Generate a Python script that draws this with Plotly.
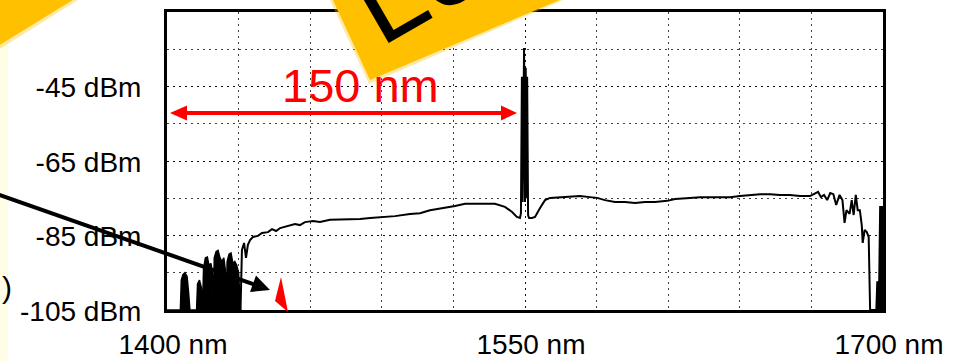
import plotly.graph_objects as go

# ---------------- data (wavelength in nm, power in dBm) ----------------
noise_nm = [1400.0, 1405.6, 1406.0, 1406.7, 1407.5, 1408.4, 1409.0, 1409.6,
            1412.4, 1412.8, 1413.6, 1414.4, 1414.9,
            1415.3, 1416.1, 1416.9, 1417.6, 1418.4, 1419.0, 1419.4,
            1419.8, 1420.6, 1421.4, 1422.2, 1423.0, 1423.8, 1424.4, 1424.8,
            1425.2, 1426.0, 1426.8, 1427.6, 1428.4, 1429.2, 1430.0, 1430.8]
noise_dbm = [-105, -105, -97, -95.5, -95, -96, -100, -105,
             -105, -98, -97, -99, -105,
             -94, -91, -90.8, -93, -92.5, -95, -105,
             -91, -89.3, -89, -91, -92, -91, -94, -105,
             -92, -90, -89.7, -92.5, -92, -93, -95, -105]

trace_nm = [1430.8, 1431.0, 1431.4, 1432.3, 1433.1, 1433.9, 1434.8, 1436.0, 1438.1, 1439.8,
            1442.3, 1444.0, 1445.7, 1447.4, 1449.4, 1451.5, 1453.6, 1455.7, 1457.8, 1461.2,
            1464.1, 1468.3, 1472.5, 1476.7, 1480.9, 1485.1, 1490.5, 1495.5, 1501.8, 1506.0,
            1510.2, 1516.5, 1520.7, 1524.9, 1529.1, 1533.3, 1537.4, 1541.6, 1544.6, 1546.6,
            1547.9, 1548.3, 1548.7, 1549.0, 1549.3, 1549.6, 1550.0, 1550.3, 1550.6, 1550.9,
            1551.3, 1551.7, 1552.9, 1554.2, 1556.3, 1558.4, 1560.5, 1564.7, 1568.9, 1573.0,
            1577.2, 1580.2, 1583.5, 1587.7, 1591.9, 1596.1, 1600.3, 1604.5, 1609.6, 1612.9,
            1619.1, 1623.3, 1629.6, 1635.9, 1640.1, 1644.3, 1648.5, 1652.7, 1656.8, 1661.0,
            1665.2, 1669.4, 1671.5, 1672.8, 1674.0, 1675.3, 1676.6, 1677.9, 1679.2, 1680.4,
            1681.8, 1683.0, 1683.9, 1684.7, 1686.0, 1686.9, 1687.7, 1688.6, 1689.4, 1690.3,
            1691.1, 1691.5, 1692.3, 1693.2, 1694.0, 1694.4, 1694.6, 1697.1]
trace_dbm = [-105, -96, -88.9, -87.0, -91.0, -87.5, -86.2, -85.4, -85.1, -84.3,
             -84.1, -83.3, -83.8, -83.0, -82.7, -82.4, -81.9, -82.2, -81.4, -81.1,
             -81.4, -80.8, -80.8, -80.6, -80.6, -80.3, -80.0, -79.8, -79.2, -79.0,
             -78.2, -77.6, -77.1, -76.5, -76.5, -76.3, -76.5, -77.3, -78.7, -80.0,
             -80.3, -79.0, -42.4, -76.0, -40.0, -34.7, -76.0, -40.0, -75.0, -42.4,
             -79.5, -80.3, -80.3, -80.0, -77.6, -75.5, -74.9, -74.7, -74.7, -74.4,
             -74.7, -74.9, -75.5, -76.0, -76.0, -76.3, -76.0, -76.0, -75.7, -75.2,
             -74.9, -74.7, -74.7, -74.7, -74.4, -74.1, -73.9, -73.9, -74.1, -74.1,
             -74.4, -74.4, -73.6, -73.3, -74.7, -74.1, -75.5, -73.6, -73.9, -76.8,
             -74.1, -75.5, -81.6, -78.2, -79.2, -75.5, -79.5, -74.1, -78.2, -78.2,
             -82.2, -87.0, -83.5, -84.1, -85.4, -100, -105, -105]

edge_nm = [1697.1, 1697.5, 1698.3, 1698.7, 1700.0, 1700.0]
edge_dbm = [-105, -97.5, -97.5, -77.3, -77.3, -105]

x_tick_vals = [1400, 1550, 1700]
x_tick_text = ["1400 nm", "1550 nm", "1700 nm"]
y_tick_vals = [-25, -45, -65, -85, -105]
y_tick_text = ["-25 dBm", "-45 dBm", "-65 dBm", "-85 dBm", "-105 dBm"]

span_label = "150 nm"
banner_text = "Lo"

# ---------------- layout geometry (window pixels) ----------------
W, H = 960, 361
PL, PT, PR, PB = 167, 12, 883, 310          # plot frame
ML, MT, MR, MB = PL, PT, W - PR, H - PB
PW, PH = PR - PL, PB - PT


def px(x):
    return (x - PL) / PW


def py(y):
    return (PB - y) / PH


def path(points):
    return "M" + " L".join(f"{px(a):.5f},{py(b):.5f}" for a, b in points) + " Z"


fig = go.Figure()
fig.add_trace(go.Scatter(x=noise_nm, y=noise_dbm, mode="lines", fill="toself",
                         fillcolor="black", line=dict(color="black", width=1.5),
                         hoverinfo="skip", showlegend=False))
fig.add_trace(go.Scatter(x=trace_nm, y=trace_dbm, mode="lines",
                         line=dict(color="black", width=2),
                         hoverinfo="skip", showlegend=False))
fig.add_trace(go.Scatter(x=edge_nm, y=edge_dbm, mode="lines", fill="toself",
                         fillcolor="black", line=dict(color="black", width=1.5),
                         hoverinfo="skip", showlegend=False))

grid = dict(showgrid=True, gridcolor="rgba(0,0,0,0.75)", gridwidth=1, griddash="2px,4px")

fig.update_xaxes(range=[1400, 1700], tickmode="array", tickvals=x_tick_vals,
                 ticktext=x_tick_text, ticks="", ticklabelshift=6, ticklabelstandoff=7,
                 tickfont=dict(family="Liberation Sans, Arial", size=28, color="black"),
                 showline=True, mirror=True, linewidth=3, linecolor="black",
                 zeroline=False, automargin=False, **grid,
                 minor=dict(tick0=1400, dtick=30, **grid))
fig.update_yaxes(range=[-105, -25], tickmode="array", tickvals=y_tick_vals,
                 ticktext=y_tick_text, ticks="", ticklabelshift=1, ticklabelstandoff=17,
                 tickfont=dict(family="Liberation Sans, Arial", size=28, color="black"),
                 showline=True, mirror=True, linewidth=3, linecolor="black",
                 zeroline=False, automargin=False, **grid,
                 minor=dict(tick0=-105, dtick=10, **grid))

YEL = "#FFC000"
shapes = [
    # pale strip on the far left
    dict(type="rect", xref="paper", yref="paper", x0=px(-10), x1=px(8), y0=py(370), y1=py(-10),
         fillcolor="#FFFDE6", line_width=0, layer="below"),
    # yellow corner at top-left (soft edge + solid)
    dict(type="path", xref="paper", yref="paper", path=path([(-10, -10), (94, -10), (-10, 55)]),
         fillcolor=YEL, opacity=0.35, line_width=0, layer="above"),
    dict(type="path", xref="paper", yref="paper", path=path([(-10, -10), (89, -10), (-10, 51)]),
         fillcolor=YEL, line_width=0, layer="above"),
    # rotated yellow banner (soft edge + solid)
    dict(type="path", xref="paper", yref="paper", path=path([(315, -32), (369, 84), (637, -32)]),
         fillcolor=YEL, opacity=0.35, line_width=0, layer="above"),
    dict(type="path", xref="paper", yref="paper", path=path([(319, -30), (370, 80), (631, -30)]),
         fillcolor=YEL, line_width=0, layer="above"),
    # red double arrow (150 nm span)
    dict(type="line", xref="paper", yref="paper", x0=px(182), x1=px(505), y0=py(113), y1=py(113),
         line=dict(color="#FF0000", width=4), layer="above"),
    dict(type="path", xref="paper", yref="paper", path=path([(170, 113), (187, 105.5), (187, 120.5)]),
         fillcolor="#FF0000", line_width=0, layer="above"),
    dict(type="path", xref="paper", yref="paper", path=path([(517, 113), (501, 105.5), (501, 120.5)]),
         fillcolor="#FF0000", line_width=0, layer="above"),
    # black pointer arrow
    dict(type="line", xref="paper", yref="paper", x0=px(-12), y0=py(191), x1=px(256), y1=py(285),
         line=dict(color="black", width=4), layer="above"),
    dict(type="path", xref="paper", yref="paper",
         path=path([(270, 290), (250, 292), (256, 275.5)]),
         fillcolor="black", line_width=0, layer="above"),
    # small red marker
    dict(type="path", xref="paper", yref="paper", path=path([(281, 277), (275, 301), (288, 312)]),
         fillcolor="#FF0000", line_width=0, layer="above"),
]

annotations = [
    dict(text=span_label, xref="paper", yref="paper", x=px(360), y=py(86),
         xanchor="center", yanchor="middle", showarrow=False,
         font=dict(family="Liberation Sans, Arial", size=47, color="#FF0000")),
    dict(text=banner_text, xref="paper", yref="paper", x=px(416), y=py(-19),
         xanchor="center", yanchor="middle", showarrow=False, textangle=-30,
         font=dict(family="Liberation Sans, Arial", size=115, color="black")),
    dict(text=")", xref="paper", yref="paper", x=px(14), y=py(287),
         xanchor="right", yanchor="middle", showarrow=False,
         font=dict(family="Liberation Sans, Arial", size=30, color="black")),
]

fig.update_layout(width=W, height=H, margin=dict(l=ML, r=MR, t=MT, b=MB, pad=0),
                  paper_bgcolor="white", plot_bgcolor="white",
                  shapes=shapes, annotations=annotations, showlegend=False)

# remove the default page margin so the figure fills the window exactly
fig.write_html("out.html", config={"displayModeBar": False},
               post_script="document.body.style.margin='0';document.body.style.overflow='hidden';")
